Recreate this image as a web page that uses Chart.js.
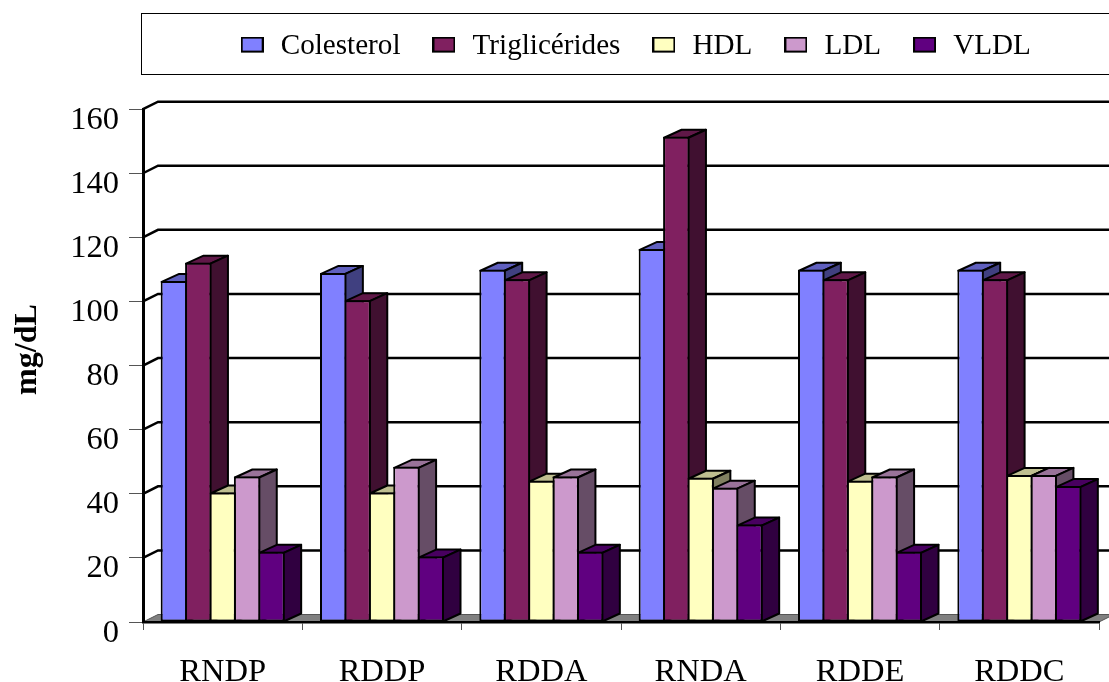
<!DOCTYPE html>
<html>
<head>
<meta charset="utf-8">
<style>
html,body{margin:0;padding:0;background:#fff;overflow:hidden}
canvas{display:block}
</style>
<script src="https://cdn.jsdelivr.net/npm/chart.js@4"></script>
</head>
<body>
<canvas id="myChart" width="1109" height="682"></canvas>
<script>
let categories = ["RNDP", "RDDP", "RDDA", "RNDA", "RDDE", "RDDC"]
let colesterol = [106.4, 108.9, 109.9, 116.4, 109.9, 109.9]
let trigliceridos = [112.1, 100.4, 106.9, 151.4, 106.9, 106.9]
let hdl = [40.4, 40.4, 44.1, 45, 44.1, 45.9]
let ldl = [45.4, 48.4, 45.4, 41.9, 45.4, 45.9]
let vldl = [21.9, 20.4, 21.9, 30.4, 21.9, 42.4]

let serif = "'Liberation Serif','Times New Roman',serif"
let wallX = 15, wallY = 7.5   // depth of the back wall
let barX = 17.5, barY = 8     // depth of each bar

function swatch(color){
    // canvas is taller than the box so the box sits a bit above the text middle
    let c = document.createElement("canvas")
    c.width = 23
    c.height = 20
    let g = c.getContext("2d")
    g.fillStyle = color
    g.fillRect(0, 0, 23, 16)
    g.strokeStyle = "#000"
    g.lineWidth = 2
    g.strokeRect(1, 1, 21, 14)
    return c
}

function poly(ctx, pts, fill){
    ctx.beginPath()
    pts.forEach((p, i) => i ? ctx.lineTo(p[0], p[1]) : ctx.moveTo(p[0], p[1]))
    ctx.closePath()
    ctx.fillStyle = fill
    ctx.fill()
    ctx.stroke()
}

let depth3d = {
    id: "depth3d",
    afterLayout(chart){
        // legend sits in its frame, above the plot
        chart.legend.top -= 38
        chart.legend.left += 170
    },
    beforeDraw(chart){
        let ctx = chart.ctx, a = chart.chartArea, y = chart.scales.y
        ctx.save()
        // legend frame
        ctx.strokeStyle = "#000"
        ctx.lineWidth = 1
        ctx.strokeRect(141.5, 13.5, 1000, 61)
        // floor
        ctx.lineWidth = 1
        ctx.strokeStyle = "#555"
        poly(ctx, [[a.left, a.bottom], [a.left + wallX, a.bottom - wallY], [a.right + wallX, a.bottom - wallY], [a.right, a.bottom]], "#808080")
        // grid on the back wall
        ctx.strokeStyle = "#000"
        ctx.lineWidth = 2.5
        y.ticks.forEach(t => {
            if(t.value == 0) return
            let py = y.getPixelForValue(t.value)
            ctx.beginPath()
            ctx.moveTo(a.left, py)
            ctx.lineTo(a.left + wallX, py - wallY)
            ctx.lineTo(a.right + wallX, py - wallY)
            ctx.stroke()
        })
        ctx.restore()
    },
    beforeDatasetsDraw(chart){
        let ctx = chart.ctx
        ctx.save()
        ctx.strokeStyle = "#000"
        ctx.lineWidth = 2
        ctx.lineJoin = "round"
        categories.forEach((c, i) => {
            chart.data.datasets.forEach((ds, d) => {
                let bar = chart.getDatasetMeta(d).data[i]
                let l = bar.x - bar.width / 2 + 1, r = bar.x + bar.width / 2 - 1, top = bar.y + 1
                poly(ctx, [[l, top], [l + barX, top - barY], [r + barX, top - barY], [r, top]], ds.topColor)
                poly(ctx, [[r, top], [r + barX, top - barY], [r + barX, bar.base - barY], [r, bar.base]], ds.sideColor)
            })
        })
        ctx.restore()
    }
}

let datasets = [
    {label: "Colesterol", data: colesterol, backgroundColor: "#8080FF", topColor: "#6060BF", sideColor: "#404080"},
    {label: "Triglicérides", data: trigliceridos, backgroundColor: "#802060", topColor: "#601848", sideColor: "#401030"},
    {label: "HDL", data: hdl, backgroundColor: "#FFFFC0", topColor: "#BFBF90", sideColor: "#808060"},
    {label: "LDL", data: ldl, backgroundColor: "#CC99CC", topColor: "#997399", sideColor: "#664D66"},
    {label: "VLDL", data: vldl, backgroundColor: "#600080", topColor: "#480060", sideColor: "#300040"}
]
datasets.forEach(ds => {
    ds.borderColor = "#000"
    ds.borderWidth = 2
    ds.borderSkipped = false
    ds.categoryPercentage = 0.766
    ds.barPercentage = 1.08   // neighbours overlap so they share one outline
})

new Chart(document.getElementById("myChart"), {
    type: "bar",
    data: {labels: categories, datasets: datasets},
    plugins: [depth3d],
    options: {
        responsive: false,
        animation: false,
        layout: {padding: {left: 0, top: 40.5, right: 10, bottom: 0}},
        plugins: {
            tooltip: {enabled: false},
            legend: {
                position: "top",
                labels: {
                    color: "#000",
                    font: {family: serif, size: 29.15},
                    usePointStyle: true,
                    pointStyleWidth: 28,
                    padding: 29.5,
                    generateLabels(chart){
                        return chart.data.datasets.map((ds, i) => ({
                            text: ds.label,
                            datasetIndex: i,
                            pointStyle: swatch(ds.backgroundColor),
                            fontColor: "#000"
                        }))
                    }
                }
            }
        },
        scales: {
            x: {
                afterFit(s){ s.height = 60 },
                border: {color: "#000", width: 2.5},
                grid: {offset: true, drawOnChartArea: false, drawTicks: true, tickLength: 8, tickWidth: 1, tickColor: "#555"},
                ticks: {color: "#000", font: {family: serif, size: 32.5}, padding: 23, maxRotation: 0}
            },
            y: {
                min: 0,
                max: 160,
                afterFit(s){ s.width = 143 },
                border: {color: "#000", width: 3},
                grid: {drawOnChartArea: false, drawTicks: true, tickLength: 14, tickWidth: 1, tickColor: "#555"},
                ticks: {stepSize: 20, color: "#000", font: {family: serif, size: 32.5}, padding: 10, labelOffset: 11},
                title: {display: true, text: "\u00a0\u00a0\u00a0\u00a0mg/dL", color: "#000", font: {family: serif, size: 32, weight: "bold"}, padding: 9}
            }
        }
    }
})
</script>
</body>
</html>
